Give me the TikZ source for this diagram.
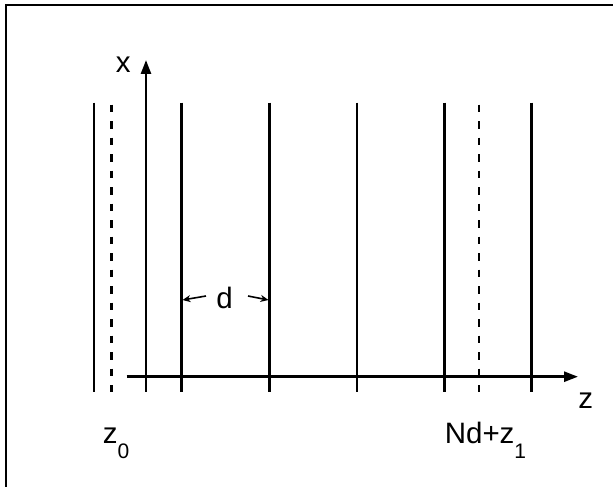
\documentclass[tikz,border=0pt]{standalone}
\usepackage{fontspec}
\setmainfont{Liberation Sans}
\usetikzlibrary{arrows.meta}

\begin{document}
\begin{tikzpicture}[x=1pt,y=-1pt,line width=2.6pt,
  font=\fontsize{29.5}{34}\selectfont,
  axis/.style={-{Triangle[length=14pt,width=10pt]}},
  gap/.style={-{Stealth[length=8pt,width=7pt]},line width=1.6pt},
  plane/.style={line width=2.6pt},
  virt/.style={line width=2.6pt,dash pattern=on 7.5pt off 9pt},
  lbl/.style={inner sep=0pt,anchor=base west}]
  \useasboundingbox (0,0) rectangle (613,487);
  \draw[line width=2pt] (6,487) -- (6,5) -- (613,5);
  % planes
  \foreach \px in {94,181.7,269.3,356.8,444.3,531.7}
    \draw[plane] (\px,102.7) -- (\px,391.7);
  \foreach \px in {111.7,479}
    \draw[virt] (\px,104.5) -- (\px,391.7);
  % axes
  \coordinate (o) at (146,376.7);
  \draw[axis] (146,391.7) -- (146,60);
  \draw[axis] (126.7,376.7) -- (578,376.7);
  \node[lbl] (xl) at (114.5,73) {x};
  \node[lbl] (zl) at (577,408) {z};
  % spacing
  \node[inner sep=0pt] (d) at (224.5,298) {d};
  \coordinate (dl) at (182.5,300);
  \coordinate (dr) at (268.5,300);
  \draw[gap] (d.west) ++(-9pt,2pt) -- (dl);
  \draw[gap] (d.east) ++(14pt,2pt) -- (dr);
  \node[lbl] (z0) at (101.5,443) {z\raisebox{-15pt}{\fontsize{21}{21}\selectfont 0}};
  \node[lbl] (z1) at (443.5,443) {Nd+z\raisebox{-15pt}{\fontsize{21}{21}\selectfont 1}};
\end{tikzpicture}
\end{document}
